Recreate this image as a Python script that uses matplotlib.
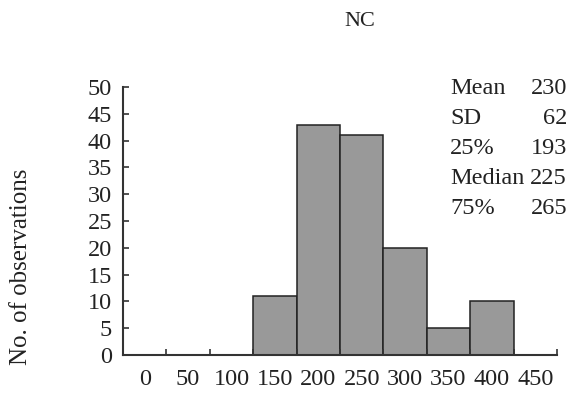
import numpy as np
import matplotlib.pyplot as plt

plt.rcParams['font.family'] = ['Liberation Serif', 'DejaVu Serif']

categories = ['0', '50', '100', '150', '200', '250', '300', '350', '400', '450']
counts = [0, 0, 0, 11, 43, 41, 20, 5, 10, 0]
stat_names = ['Mean', 'SD', '25%', 'Median', '75%']
stat_values = ['230', '62', '193', '225', '265']

fig = plt.figure(figsize=(5.77, 3.96), dpi=100)
ax = fig.add_axes([0.2132, 0.1035, 0.752, 0.6768])

x = np.arange(len(categories))
ax.bar(x, counts, width=1.0, color='#999999', edgecolor='#222222', linewidth=1.1)

ax.set_xlim(-0.5, len(categories) - 0.5)
ax.set_ylim(0, 50)
ax.set_yticks(np.arange(0, 51, 5))
ax.set_xticks(x)
ax.set_xticklabels(categories)
ax.set_xticks(np.arange(0.5, len(categories), 1.0), minor=True)

ax.tick_params(axis='x', which='major', length=0, pad=10, labelsize=17.5, labelcolor='#222222')
ax.tick_params(axis='x', which='minor', direction='in', length=4, width=1.2, color='#333333')
ax.tick_params(axis='y', direction='in', length=4, width=1.2, color='#333333', pad=8,
               labelsize=17.5, labelcolor='#222222')

for s in ['top', 'right']:
    ax.spines[s].set_visible(False)
for s in ['left', 'bottom']:
    ax.spines[s].set_linewidth(1.5)
    ax.spines[s].set_color('#333333')

ax.set_ylabel('No. of observations', fontsize=18, color='#222222')
ax.yaxis.set_label_coords(-0.21, 0.33)

fig.text(360 / 577, 1 - 21 / 396, 'NC', fontsize=16, ha='center', va='center', color='#222222')

y0 = 1 - 89 / 396
dy = 30 / 396
for i, (n, v) in enumerate(zip(stat_names, stat_values)):
    fig.text(450 / 577, y0 - i * dy, n, fontsize=17.5, ha='left', va='center', color='#222222')
    fig.text(567 / 577, y0 - i * dy, v, fontsize=17.5, ha='right', va='center', color='#222222')

fig.savefig('out.png', dpi=100)
